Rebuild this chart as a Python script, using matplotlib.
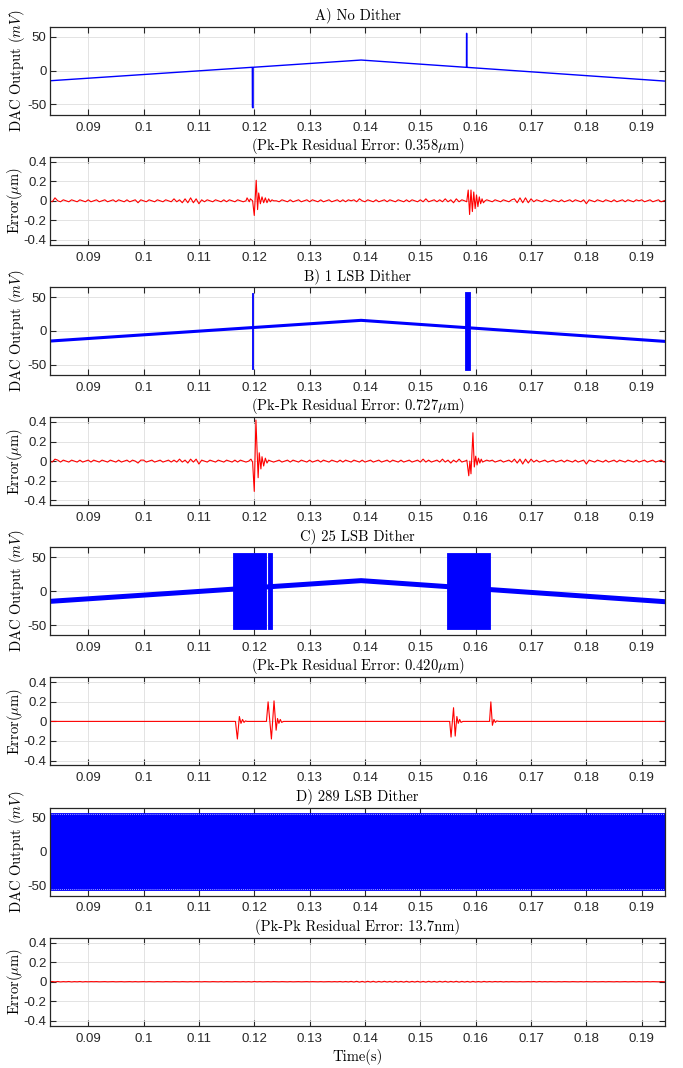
import numpy as np
import matplotlib
matplotlib.use("Agg")
import matplotlib.pyplot as plt
from matplotlib import font_manager

# ---------------------------------------------------------------- data
X_LIM = (0.0831, 0.1942)
X_TICKS = [0.09, 0.10, 0.11, 0.12, 0.13, 0.14, 0.15, 0.16, 0.17, 0.18, 0.19]
X_TICK_LABELS = ['0.09', '0.1', '0.11', '0.12', '0.13', '0.14', '0.15',
                 '0.16', '0.17', '0.18', '0.19']
DAC_TICKS = [-50, 0, 50]
DAC_TICK_LABELS = ['-50', '0', '50']
ERR_TICKS = [-0.4, -0.2, 0.0, 0.2, 0.4]
ERR_TICK_LABELS = ['-0.4', '-0.2', '0', '0.2', '0.4']

TITLES = ['A) No Dither', 'B) 1 LSB Dither', 'C) 25 LSB Dither', 'D) 289 LSB Dither']
PKPK = [r'(Pk-Pk Residual Error: 0.358$\mu$m)',
        r'(Pk-Pk Residual Error: 0.727$\mu$m)',
        r'(Pk-Pk Residual Error: 0.420$\mu$m)',
        r'(Pk-Pk Residual Error: 13.7nm)']

# triangular DAC trajectory (s, mV)
RAMP_T = [0.0831, 0.1393, 0.1942]
RAMP_V = [-15.0, 15.6, -15.5]

# no dither: trajectory with two code-transition glitches
A_T = [0.0831, 0.11965, 0.11967, 0.11977, 0.11979, 0.1393,
       0.15834, 0.15835, 0.15838, 0.15839, 0.1942]
A_V = [-15.0, 4.9, -54.0, -55.0, 4.9, 15.6,
       4.8, 55.0, 55.0, 4.8, -15.5]

# dithered bursts: (start s, end s, low mV, high mV)
B_BANDS = [(0.11952, 0.11978, -57.0, 56.0),
           (0.15810, 0.15905, -58.0, 57.0)]
C_BANDS = [(0.11617, 0.12220, -56.0, 56.0),
           (0.12250, 0.12314, -56.0, 56.0),
           (0.15486, 0.16250, -56.0, 56.0)]
D_BANDS = [(0.0831, 0.1942, -57.0, 57.0)]

# residual error background, sampled every 0.5 ms from 83 ms
NOISE_T0 = 0.083
NOISE_DT = 0.0005
# units of 0.01 um
A_NOISE = [0, -1, 3, 0, -1, 1, 0, -1, 1, 0,
           -1, 1, 0, -1, 1, -1, 0, 1, -1, 0,
           1, -1, 0, 1, -1, 1, 0, -1, 1, -1,
           0, 1, -2, 1, 0, -1, 1, 0, -1, 1,
           0, -1, 1, 0, -1, 2, -1, 1, -2, 2,
           -2, 3, -2, 2, -3, 1, -1, 1, 0, -1,
           1, 0, -1, 1, -1, 1, 0, -1, 1, 0,
           -1, 1, 2, -1, 0, 0, 0, 0, 0, 1,
           -1, 1, 0, -1, 1, 0, -1, 1, -1, 0,
           1, -1, 0, 1, -1, 1, 0, -1, 1, -1,
           0, 1, -1, 0, 1, -1, 1, -1, 1, 0,
           1, -1, 2, 0, -1, 1, 0, -1, 1, -1,
           0, 1, -1, 1, 0, -1, 1, 0, -1, 1,
           -1, 1, 0, -1, 1, -1, 2, -1, 0, 1,
           -1, 1, -1, 2, -1, 1, -2, 2, -1, 1,
           0, 0, 0, 0, 0, 0, 1, -1, 1, 0,
           -1, 1, 0, -1, 1, 0, -1, 1, 2, -2,
           3, -2, 3, -2, 2, -1, 1, 0, -1, 1,
           0, -1, 1, 0, -1, 1, -1, 0, 1, -1,
           1, 0, -1, 1, -3, 1, 0, -1, 1, 0,
           -1, 1, 0, -1, 1, -1, 0, 1, -1, 1,
           0, -1, 1, 0, 1, -1, 0, 1, -1, 0,
           1, -1, 0, 1]
B_NOISE = [0, -1, 2, 1, -1, 1, 0, -1, 1, 0,
           -1, 1, -1, 0, 1, -1, 1, 0, -1, 1,
           0, -1, 1, 0, -1, 1, -1, 0, 1, -1,
           1, 0, -2, 1, 1, -1, 0, 1, -1, 0,
           1, -1, 0, 1, -1, 1, -1, 2, -1, 1,
           -2, 2, -1, 2, -3, 1, 0, -1, 1, 0,
           -1, 1, 0, -1, 1, 0, -1, 1, -1, 1,
           0, -1, 2, 0, 0, 0, 0, 0, 0, 0,
           1, -1, 0, 1, -1, 0, 1, -1, 1, 0,
           -1, 1, 0, -1, 1, -1, 0, 1, -1, 1,
           0, -1, 1, 0, -1, 1, -1, 1, 0, -1,
           1, 0, -1, 1, -1, 0, 1, -1, 0, 1,
           -1, 0, 1, -1, 1, 0, -1, 1, -1, 0,
           1, -1, 0, 1, -1, 2, -1, 1, -1, 0,
           1, -1, 2, -1, 1, -2, 1, -1, 2, -1,
           0, 0, 0, 0, 0, 0, 0, -1, 1, 0,
           1, -1, 0, 1, -1, 0, 1, -1, 2, -2,
           2, -3, 2, -2, 2, -1, 1, -1, 0, 1,
           -1, 0, 1, -1, 0, 1, -1, 1, 0, -1,
           1, -1, 0, 1, -3, 1, 0, -1, 1, 0,
           -1, 1, -1, 0, 1, -1, 1, 0, -1, 1,
           0, -1, 1, -1, 0, 1, -1, 0, 1, -1,
           0, 1, -1, 0]
C_NOISE = [0, 0]
# units of 0.001 um
D_NOISE = [0, 2, -2, 2, -2, 1, -1, 2, -2, 1,
           -1, 2, -2, 1, -1, 1, 0, 1, -1, 0,
           1, -1, 0, 1, -1, 0, 1, -1, 0, 1,
           -1, 1, -1, 0, 1, -1, 1, 0, -1, 1,
           0, -1, 1, 0, -1, 1, 0, -1, 1, 0,
           -1, 1, -1, 1, 0, -1, 1, 0, -1, 1,
           0, -1, 1, -1, 1, 0, -1, 1, 0, -1,
           1, -1, 1, -2, 2, -1, 1, -1, 0, 1,
           -1, 1, 0, -1, 1, 0, -1, 1, -1, 0,
           1, -1, 0, 1, -1, 1, 0, -1, 1, -1,
           0, 1, -1, 1, -1, 2, -2, 2, -2, 3,
           -3, 4, -4, 3, -4, 4, -3, 4, -4, 3,
           -3, 4, -3, 3, -4, 4, -3, 3, -4, 4,
           -4, 3, -3, 4, -4, 3, -4, 4, -3, 3,
           -4, 4, -3, 4, -4, 3, -3, 4, -4, 3,
           -3, 3, -4, 3, -3, 2, -3, 3, -2, 2,
           -2, 2, -1, 2, -2, 1, -1, 1, 0, -1,
           1, -1, 0, 1, -1, 2, -2, 2, -1, 1,
           -1, 1, 0, -1, 1, -1, 1, 0, -1, 1,
           0, -1, 1, -1, 1, 0, -1, 1, -1, 0,
           1, -1, 1, 0, -1, 1, -1, 0, 1, -1,
           0, 1, -1, 1, -1, 0, 1, -1, 1, 0,
           -1, 1, 0, -1]

# residual error transients at the glitches (s, um)
A_BURSTS = [
    ([0.1185, 0.1187, 0.1191, 0.1193, 0.1197, 0.1200, 0.12035, 0.1206, 0.1208,
      0.1211, 0.1214, 0.1217, 0.1220, 0.1223, 0.1226, 0.1229, 0.1232, 0.1235],
     [0.0, 0.03, -0.01, 0.02, 0.0, -0.15, 0.21, -0.09, 0.08,
      -0.03, 0.04, -0.02, 0.03, -0.02, 0.02, -0.01, 0.01, 0.0]),
    ([0.1580, 0.15838, 0.15865, 0.15890, 0.15915, 0.15940, 0.15965, 0.15990,
      0.16015, 0.16040, 0.16065, 0.16090, 0.16115, 0.16140, 0.16170],
     [0.0, -0.01, 0.11, -0.14, 0.11, -0.11, 0.09, -0.08,
      0.06, -0.06, 0.04, -0.03, 0.02, -0.02, 0.0]),
]
B_BURSTS = [
    ([0.1190, 0.1194, 0.1197, 0.1200, 0.12030, 0.1207, 0.1209, 0.1212,
      0.1214, 0.1217, 0.1220, 0.1223, 0.1226, 0.1230],
     [0.0, 0.02, -0.01, -0.31, 0.42, -0.17, 0.085, -0.08,
      0.045, -0.05, 0.03, -0.02, 0.01, 0.0]),
    ([0.1581, 0.1584, 0.15875, 0.15895, 0.15915, 0.15950, 0.15975, 0.16000,
      0.16025, 0.16050, 0.16075, 0.16100, 0.16125, 0.1616],
     [0.0, 0.01, -0.15, 0.0, -0.13, 0.29, -0.06, 0.05,
      -0.04, 0.03, -0.02, 0.02, -0.01, 0.0]),
]
C_BURSTS = [
    ([0.1166, 0.11695, 0.11731, 0.1176, 0.11788, 0.11815, 0.1184, 0.1187],
     [0.0, -0.18, 0.05, -0.02, 0.02, -0.01, 0.005, 0.0]),
    ([0.1222, 0.12250, 0.12310, 0.12357, 0.12395, 0.1242, 0.12445, 0.1247,
      0.12495, 0.1253],
     [0.0, 0.20, -0.18, 0.21, -0.09, 0.03, -0.02, 0.02, -0.01, 0.0]),
    ([0.1553, 0.15555, 0.1560, 0.1563, 0.1566, 0.15685, 0.1571, 0.15735, 0.1577],
     [0.0, -0.16, 0.14, -0.15, 0.05, -0.02, 0.02, -0.01, 0.0]),
    ([0.1625, 0.16274, 0.16302, 0.1633, 0.16355, 0.1638, 0.1642],
     [0.0, 0.20, -0.04, 0.02, -0.01, 0.005, 0.0]),
]
D_BURSTS = []

# ---------------------------------------------------------------- style
BLUE = '#0000ff'
RED = '#ff0000'
AX_COLOR = '#262626'
GRID_COLOR = '#dedede'

names = {f.name for f in font_manager.fontManager.ttflist}
TICK_FONT = 'Liberation Sans Narrow' if 'Liberation Sans Narrow' in names else 'Liberation Sans'
SERIF = 'cmr10'

plt.rcParams['font.family'] = [TICK_FONT, 'DejaVu Sans']
plt.rcParams['mathtext.fontset'] = 'cm'
plt.rcParams['axes.unicode_minus'] = False

W, H = 683, 1068
fig = plt.figure(figsize=(W / 100, H / 100), dpi=100)

LEFT_PX, RIGHT_PX, AX_H = 50.0, 665.0, 88.0
DAC_TOP = [26.6, 286.9, 547.2, 807.5]
ERR_OFFSET = 130.2


def make_axes(top_px):
    return fig.add_axes([LEFT_PX / W, (H - top_px - AX_H) / H,
                         (RIGHT_PX - LEFT_PX) / W, AX_H / H])


def style(ax, ylim, yticks, ylabels):
    ax.set_xlim(X_LIM)
    ax.set_ylim(ylim)
    ax.set_xticks(X_TICKS)
    ax.set_xticklabels(X_TICK_LABELS)
    ax.set_yticks(yticks)
    ax.set_yticklabels(ylabels)
    ax.grid(True, color=GRID_COLOR, linewidth=0.6)
    ax.set_axisbelow(True)
    ax.tick_params(axis='both', direction='in', top=True, right=True,
                   length=4.5, width=0.8, colors=AX_COLOR, labelsize=9.5)
    ax.tick_params(axis='x', pad=5)
    ax.tick_params(axis='y', pad=2.5)
    for sp in ax.spines.values():
        sp.set_color(AX_COLOR)
        sp.set_linewidth(0.9)


def error_trace(noise, scale, bursts):
    t = NOISE_T0 + NOISE_DT * np.arange(len(noise))
    v = np.asarray(noise, float) * scale
    if len(noise) == 2:
        t = np.array(X_LIM)
    keep = np.ones(len(t), bool)
    for bt, _ in bursts:
        keep &= ~((t >= bt[0]) & (t <= bt[-1]))
    ts = [t[keep]] + [np.asarray(bt) for bt, _ in bursts]
    vs = [v[keep]] + [np.asarray(bv) for _, bv in bursts]
    ts = np.concatenate(ts)
    vs = np.concatenate(vs)
    order = np.argsort(ts, kind='stable')
    return ts[order], vs[order]


def draw_bands(ax, bands):
    for t0, t1, lo, hi in bands:
        ax.fill_between([t0, t1], [lo, lo], [hi, hi], color=BLUE,
                        linewidth=0.6, edgecolor=BLUE)


noises = [(A_NOISE, 0.01, A_BURSTS), (B_NOISE, 0.01, B_BURSTS),
          (C_NOISE, 0.01, C_BURSTS), (D_NOISE, 0.001, D_BURSTS)]

for i in range(4):
    ax = make_axes(DAC_TOP[i])
    style(ax, (-65, 65), DAC_TICKS, DAC_TICK_LABELS)
    if i == 0:
        ax.plot(A_T, A_V, color=BLUE, linewidth=1.0)
    elif i == 1:
        ax.plot(RAMP_T, RAMP_V, color=BLUE, linewidth=2.2)
        draw_bands(ax, B_BANDS)
    elif i == 2:
        ax.plot(RAMP_T, RAMP_V, color=BLUE, linewidth=3.6)
        draw_bands(ax, C_BANDS)
    else:
        draw_bands(ax, D_BANDS)
        ax.axhline(55.8, color='white', linewidth=0.5, dashes=(1.2, 1.6))
        ax.axhline(-56.0, color='white', linewidth=0.5, dashes=(1.2, 1.6))
    ax.set_title(TITLES[i], family=SERIF, fontsize=10.5, color='black', pad=5)
    ax.set_ylabel(r'DAC Output $(mV)$', family=SERIF, fontsize=10.5, va='center')
    ax.yaxis.set_label_coords(-0.053, 0.5)

    ex = make_axes(DAC_TOP[i] + ERR_OFFSET)
    style(ex, (-0.45, 0.45), ERR_TICKS, ERR_TICK_LABELS)
    nz, sc, bursts = noises[i]
    et, ev = error_trace(nz, sc, bursts)
    ex.plot(et, ev, color=RED, linewidth=0.8)
    ex.set_title(PKPK[i], family=SERIF, fontsize=10.5, color='black', pad=5)
    ex.set_ylabel(r'Error$(\mu\mathrm{m})$', family=SERIF, fontsize=10.5, va='center')
    ex.yaxis.set_label_coords(-0.057, 0.5)
    if i == 3:
        ex.set_xlabel('Time(s)', family=SERIF, fontsize=10.5, labelpad=3)

fig.savefig('out.png', dpi=100)
